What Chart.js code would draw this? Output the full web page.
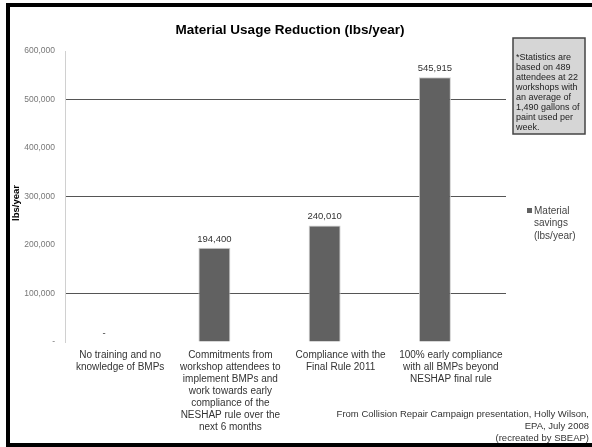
<!DOCTYPE html>
<html>
<head>
<meta charset="utf-8">
<script src="https://cdn.jsdelivr.net/npm/chart.js@4/dist/chart.umd.min.js"></script>
<style>
  html, body { margin: 0; padding: 0; background: #fff; }
  canvas { display: block; }
</style>
</head>
<body>
<canvas id="chart" width="592" height="447"></canvas>
<script>
const categories = [
  ['No training and no', 'knowledge of BMPs'],
  ['Commitments from', 'workshop attendees to', 'implement BMPs and', 'work towards early', 'compliance of the', 'NESHAP rule over the', 'next 6 months'],
  ['Compliance with the', 'Final Rule 2011'],
  ['100% early compliance', 'with all BMPs beyond', 'NESHAP final rule'],
];
const savings = [0, 194400, 240010, 545915];
const yTicks = [0, 100000, 200000, 300000, 400000, 500000, 600000];
const noteLines = ['*Statistics are', 'based on 489', 'attendees at 22', 'workshops with', 'an average of', '1,490 gallons of', 'paint used per', 'week.'];
const sourceLines = ['From Collision Repair Campaign presentation, Holly Wilson,', 'EPA, July 2008', '(recreated by SBEAP)'];

const FONT = '"Liberation Sans", Arial, sans-serif';
const BAR = '#616161';

const fmt = (v) => (v === 0 ? '-' : v.toLocaleString('en-US'));

// title, frame, axis title, legend, note box, source, value labels
const extras = {
  id: 'extras',
  afterDraw(chart) {
    const c = chart.ctx;
    c.save();

    // frame
    c.strokeStyle = '#000';
    c.lineWidth = 4;
    c.beginPath();
    c.moveTo(592, 5);
    c.lineTo(8, 5);
    c.lineTo(8, 445);
    c.lineTo(592, 445);
    c.stroke();

    c.fillStyle = '#000';
    c.textAlign = 'center';
    c.textBaseline = 'middle';
    c.font = 'bold 13.5px ' + FONT;
    c.fillText('Material Usage Reduction (lbs/year)', 290, 30);

    // y title
    c.save();
    c.translate(16, 203);
    c.rotate(-Math.PI / 2);
    c.font = 'bold 9.5px ' + FONT;
    c.fillText('lbs/year', 0, 0);
    c.restore();

    // value labels
    c.font = '9.5px ' + FONT;
    c.fillStyle = '#333';
    c.textBaseline = 'bottom';
    chart.getDatasetMeta(0).data.forEach((bar, i) => {
      c.fillText(fmt(savings[i]), bar.x, bar.y - 4);
    });

    // legend
    c.fillStyle = BAR;
    c.fillRect(527, 208, 5, 5);
    c.fillStyle = '#444';
    c.textAlign = 'left';
    c.textBaseline = 'middle';
    c.font = '10px ' + FONT;
    ['Material', 'savings', '(lbs/year)'].forEach((t, i) => c.fillText(t, 534, 211 + i * 12.5));

    // note box
    c.fillStyle = '#d6d6d6';
    c.fillRect(513, 38, 72, 96);
    c.strokeStyle = '#444';
    c.lineWidth = 1.5;
    c.strokeRect(513, 38, 72, 96);
    c.fillStyle = '#222';
    c.font = '9px ' + FONT;
    noteLines.forEach((t, i) => c.fillText(t, 516, 58 + i * 9.9));

    // source
    c.textAlign = 'right';
    c.fillStyle = '#333';
    c.font = '9.5px ' + FONT;
    sourceLines.forEach((t, i) => c.fillText(t, 589, 414 + i * 12));

    c.restore();
  },
};

new Chart(document.getElementById('chart'), {
  type: 'bar',
  data: {
    labels: categories,
    datasets: [
      {
        label: 'Material savings (lbs/year)',
        data: savings,
        backgroundColor: BAR,
        borderColor: '#cfcfcf',
        borderWidth: { left: 1, right: 1, top: 1, bottom: 0 },
        barPercentage: 1,
        categoryPercentage: 0.58,
      },
      {
        // empty second series slot (keeps bars off-centre like the original)
        label: '',
        data: savings.map(() => null),
        barPercentage: 1,
        categoryPercentage: 0.58,
      },
    ],
  },
  options: {
    responsive: false,
    animation: false,
    layout: { padding: { top: 51, right: 86, left: 0, bottom: 0 } },
    plugins: {
      legend: { display: false },
      title: { display: false },
      tooltip: { enabled: false },
    },
    scales: {
      x: {
        grid: { display: false, drawTicks: false },
        border: { display: false },
        ticks: {
          color: '#333',
          font: { family: FONT, size: 10, lineHeight: 1.2 },
          padding: 7,
          maxRotation: 0,
          autoSkip: false,
        },
        afterFit(scale) { scale.height = 105; },
      },
      y: {
        min: 0,
        max: 600000,
        afterBuildTicks(scale) { scale.ticks = yTicks.map((v) => ({ value: v })); },
        grid: {
          drawTicks: false,
          color: (ctx) => (ctx.tick && ctx.tick.value % 200000 === 100000 ? '#555' : 'rgba(0,0,0,0)'),
        },
        border: { display: true, color: '#d0d0d0' },
        ticks: {
          color: '#777',
          font: { family: FONT, size: 8.5 },
          padding: 10,
          callback: (v) => fmt(v),
        },
        afterFit(scale) { scale.width = 65; },
      },
    },
  },
  plugins: [extras],
});
</script>
</body>
</html>
